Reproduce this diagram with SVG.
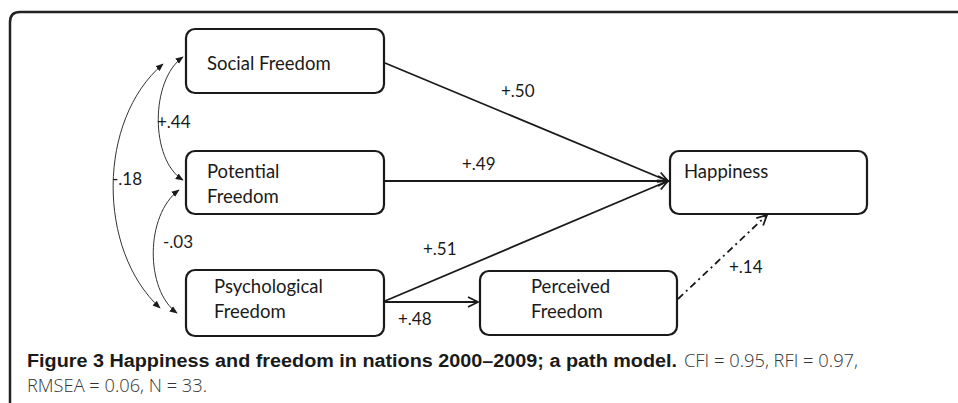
<svg xmlns="http://www.w3.org/2000/svg" width="958" height="403" viewBox="0 0 958 403">
<style>
.box{fill:#fff;stroke:#1a1a1a;stroke-width:2.2}
.lbl{font-family:Lato,"Open Sans",sans-serif;font-size:18.5px;fill:#1a1a1a}
.num{font-family:Lato,"Open Sans",sans-serif;font-size:17px;fill:#1a1a1a}
.path{fill:none;stroke:#1a1a1a;stroke-width:1.8}
.cov{fill:none;stroke:#333;stroke-width:1}
.cap{font-family:"Open Sans","Noto Sans",sans-serif;font-size:18px;font-weight:300;fill:#333}
.capb{font-family:"Liberation Sans",Arial,sans-serif;font-size:17.5px;font-weight:bold;fill:#1a1a1a}
</style>
<defs>
<marker id="open" viewBox="0 0 12 12" refX="11" refY="6" markerWidth="12" markerHeight="12" markerUnits="userSpaceOnUse" orient="auto">
<path d="M1,1 L11,6 L1,11" fill="none" stroke="#1a1a1a" stroke-width="1.8"/>
</marker>
<marker id="small" viewBox="0 0 10 10" refX="9" refY="5" markerWidth="8" markerHeight="8" markerUnits="userSpaceOnUse" orient="auto-start-reverse">
<path d="M0,1 L10,5 L0,9 Z" fill="#1a1a1a"/>
</marker>
</defs>
<path d="M10,403 V22 Q10,12 20,12 H958" fill="none" stroke="#222" stroke-width="2.5"/>
<g id="connectors">
<line class="path" x1="385" y1="63" x2="668" y2="181" marker-end="url(#open)"/>
<line class="path" x1="385" y1="181" x2="668" y2="181" marker-end="url(#open)"/>
<line class="path" x1="385" y1="301" x2="668" y2="181" marker-end="url(#open)"/>
<line class="path" x1="385" y1="302" x2="478" y2="302" marker-end="url(#open)"/>
<line class="path" x1="678" y1="299" x2="767" y2="215" stroke-dasharray="7 4 2 4" stroke-width="1.6" marker-end="url(#open)"/>
<path class="cov" d="M183,57 C150,80 150,160 183,180" marker-start="url(#small)" marker-end="url(#small)"/>
<path class="cov" d="M163,64 C97,120 97,250 160,308" marker-start="url(#small)" marker-end="url(#small)"/>
<path class="cov" d="M179,190 C145,215 145,290 177,313" marker-start="url(#small)" marker-end="url(#small)"/>
<text class="num" x="501" y="97">+.50</text>
<text class="num" x="462" y="170">+.49</text>
<text class="num" x="423" y="255">+.51</text>
<text class="num" x="398" y="325">+.48</text>
<text class="num" x="729" y="273">+.14</text>
<text class="num" x="157" y="128">+.44</text>
<text class="num" x="112" y="185">-.18</text>
<text class="num" x="163" y="248">-.03</text>
</g>
<g id="social">
<rect class="box" x="186" y="29" width="198" height="64" rx="9"/>
<text class="lbl" x="207" y="70">Social Freedom</text>
</g>
<g id="potential">
<rect class="box" x="186" y="151" width="198" height="63" rx="9"/>
<text class="lbl" x="207" y="178">Potential</text>
<text class="lbl" x="207" y="203">Freedom</text>
</g>
<g id="psychological">
<rect class="box" x="186" y="270" width="198" height="66" rx="9"/>
<text class="lbl" x="214" y="293">Psychological</text>
<text class="lbl" x="214" y="318">Freedom</text>
</g>
<g id="happiness">
<rect class="box" x="670" y="151" width="197" height="63" rx="9"/>
<text class="lbl" x="684" y="178">Happiness</text>
</g>
<g id="perceived">
<rect class="box" x="480" y="271" width="197" height="64" rx="9"/>
<text class="lbl" x="531" y="293">Perceived</text>
<text class="lbl" x="531" y="318">Freedom</text>
</g>
<g id="caption">
<text class="capb" x="27" y="367" textLength="650" lengthAdjust="spacingAndGlyphs">Figure 3 Happiness and freedom in nations 2000–2009; a path model.</text>
<text class="cap" x="684" y="367" textLength="174" lengthAdjust="spacingAndGlyphs">CFI = 0.95, RFI = 0.97,</text>
<text class="cap" x="27" y="392" textLength="180" lengthAdjust="spacingAndGlyphs">RMSEA = 0.06, N = 33.</text>
</g>
</svg>
